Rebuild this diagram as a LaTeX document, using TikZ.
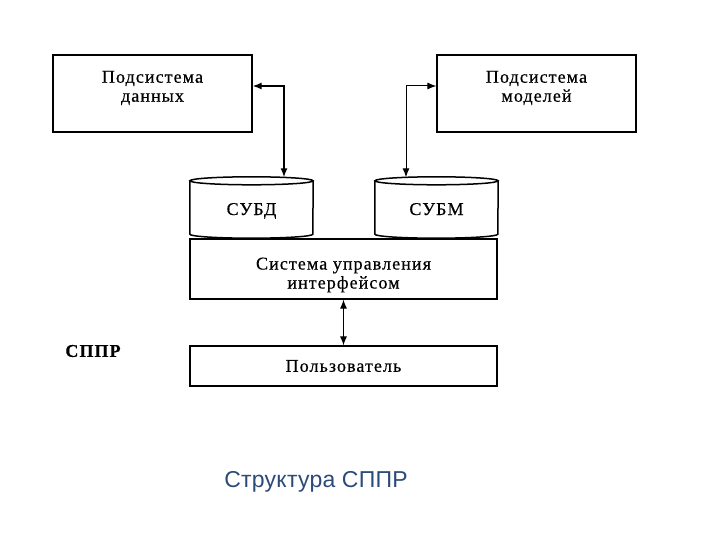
\documentclass[tikz,border=0pt]{standalone}
\usepackage{fontspec}
\setmainfont{Liberation Serif}[LetterSpace=6,FakeBold=0.5]
\newfontfamily\titlefont{Liberation Sans}[LetterSpace=1]
\usetikzlibrary{arrows.meta}
\definecolor{titleblue}{RGB}{44,74,120}
\begin{document}
\begin{tikzpicture}[x=1pt,y=-1pt,>={Latex[length=9pt,width=7pt]},
    box/.style={draw,line width=1.2pt,font=\fontsize{18}{19}\selectfont,align=center},
    db/.style={minimum width=123pt,minimum height=53pt,text height=15pt,text depth=0pt,
      font=\fontsize{18}{19}\selectfont}]
      \useasboundingbox (0,0) rectangle (720,540);
      \node[box,minimum width=199pt,minimum height=77pt,
        label={[align=center,anchor=north,yshift=-13pt,font=\fontsize{18}{19}\selectfont]north:{Подсистема\\данных}}]
        (data) at (152.5,93.5) {};
      \node[box,minimum width=199pt,minimum height=77pt,
        label={[align=center,anchor=north,yshift=-13pt,font=\fontsize{18}{19}\selectfont]north:{Подсистема\\моделей}}]
        (models) at (536.5,93.5) {};
      \node[db] (subd) at (251.5,207.5) {СУБД};
      \node[db] (subm) at (436.5,207.5) {СУБМ};
      \draw[line width=1.5pt] (subd.north west) -- (subd.south west)
        arc[start angle=180,end angle=360,x radius=61.5pt,y radius=4pt] -- (subd.north east);
      \draw[line width=1.5pt] (subd.north) ellipse[x radius=61.5pt,y radius=4pt];
      \draw[line width=1.5pt] (subm.north west) -- (subm.south west)
        arc[start angle=180,end angle=360,x radius=61.5pt,y radius=4pt] -- (subm.north east);
      \draw[line width=1.5pt] (subm.north) ellipse[x radius=61.5pt,y radius=4pt];
      \node[box,minimum width=307pt,minimum height=60pt,
        label={[align=center,yshift=-6pt,font=\fontsize{18}{19}\selectfont]center:{Система управления\\интерфейсом}}]
        (iface) at (343.5,269) {};
      \node[box,minimum width=307pt,minimum height=40pt] (user) at (343.5,366) {Пользователь};
      \node[font=\fontsize{18}{19}\selectfont\bfseries] (sppr) at (93,351) {СППР};
      \draw[<->,line width=1.5pt] ([yshift=7.5pt]data.east) -| ([xshift=32.5pt,yshift=3.5pt]subd.north);
      \draw[<->,line width=1pt] ([yshift=7.5pt]models.west) -| ([xshift=-30.5pt,yshift=3.5pt]subm.north);
      \draw[<->,line width=1pt] (iface) -- (user);
      \node[font=\titlefont\fontsize{23}{27}\selectfont,text=titleblue] (title) at (316,482) {Структура СППР};
    \end{tikzpicture}
\end{document}
